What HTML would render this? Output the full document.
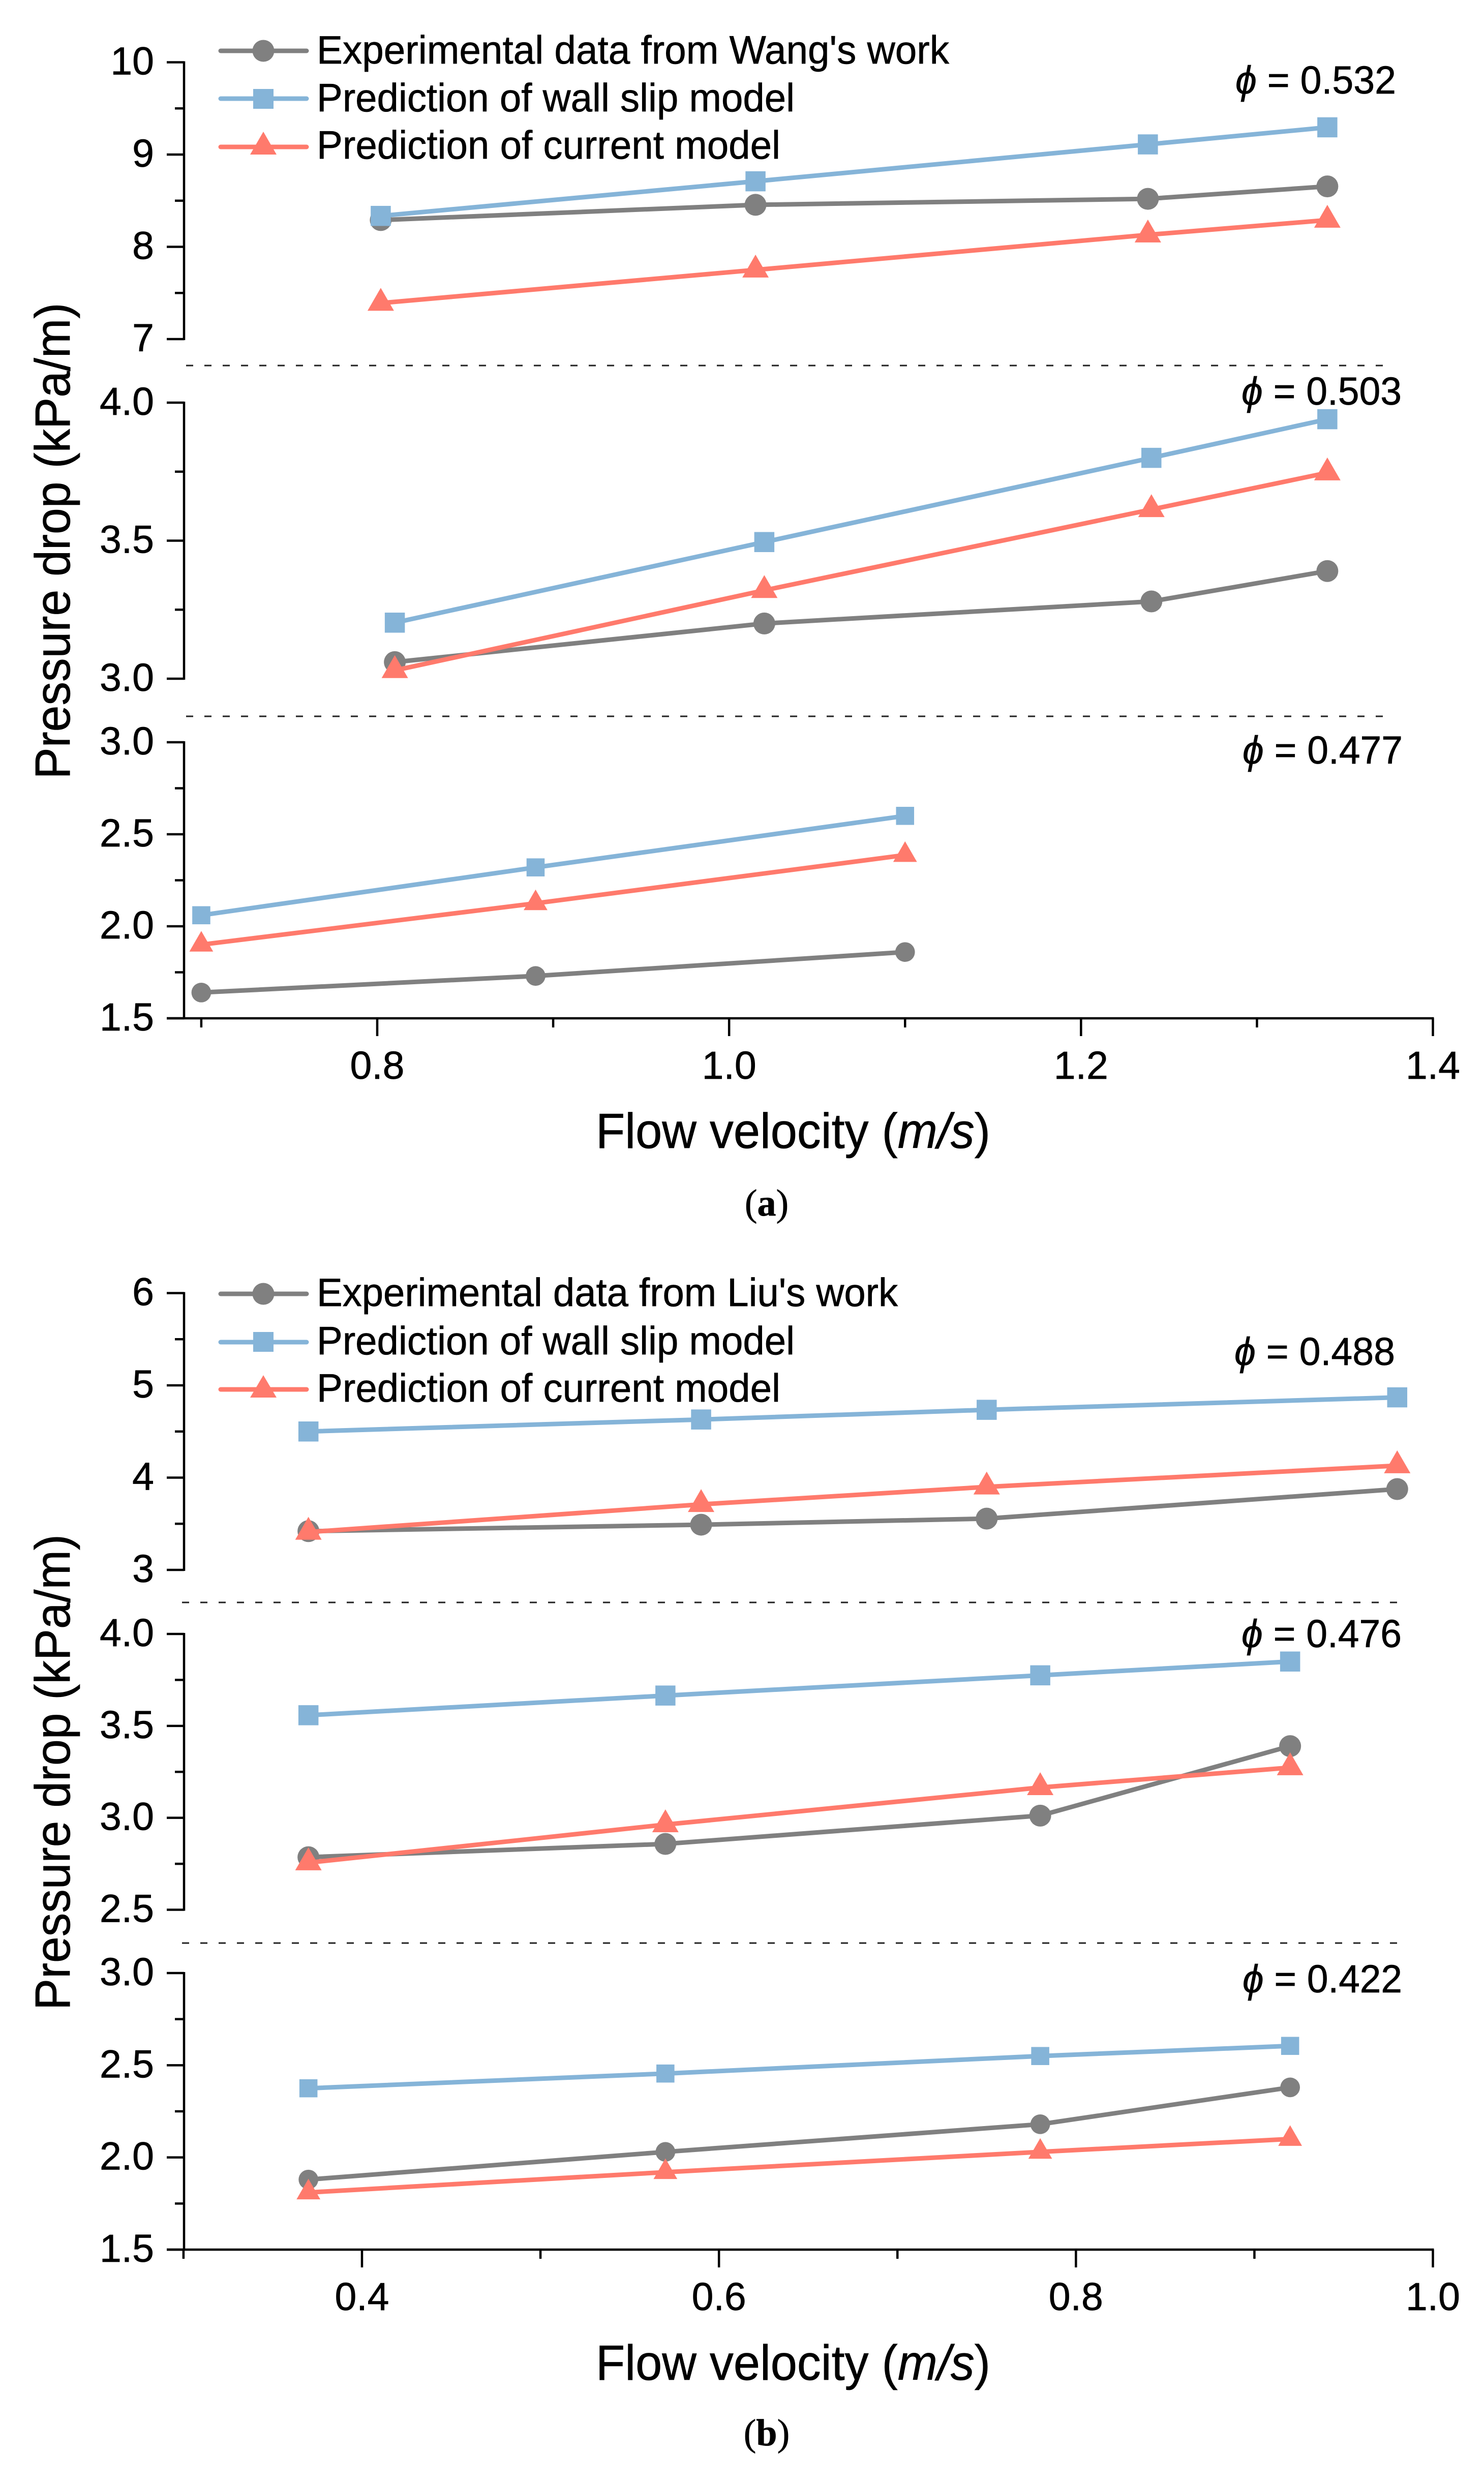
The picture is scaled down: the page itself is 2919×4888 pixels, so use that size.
<!DOCTYPE html>
<html lang="en">
<head>
<meta charset="utf-8">
<title>Pressure drop versus flow velocity</title>
<style>
html,body{margin:0;padding:0;background:#fff;}
svg{display:block;}
text{font-family:"Liberation Sans",sans-serif;fill:#000;stroke:#000;stroke-width:0.7px;}
.tick-label{font-size:77px;}
.legend-text{font-size:78px;}
.phi{font-size:77px;}
.axis-title{font-size:97px;}
.caption{font-family:"Liberation Serif",serif;font-size:74px;}
</style>
</head>
<body>
<svg id="chart" xmlns="http://www.w3.org/2000/svg" width="2919" height="4888" viewBox="0 0 2919 4888">
  <rect x="0" y="0" width="2919" height="4888" fill="#ffffff"/>

  <line x1="366" x2="2730" y1="719" y2="719" stroke="#222" stroke-width="3" stroke-dasharray="14 22"/>
  <line x1="366" x2="2730" y1="1409" y2="1409" stroke="#222" stroke-width="3" stroke-dasharray="14 22"/>
  <line x1="358" x2="2757" y1="3152" y2="3152" stroke="#222" stroke-width="3" stroke-dasharray="14 22"/>
  <line x1="358" x2="2757" y1="3822" y2="3822" stroke="#222" stroke-width="3" stroke-dasharray="14 22"/>

  <g id="plots"></g>

  <g>
    <g>
      <line x1="434" x2="603" y1="100" y2="100" stroke="#808080" stroke-width="9" stroke-linecap="round"/>
      <circle cx="518" cy="100" r="21.5" fill="#808080"/>
      <text class="legend-text" x="623" y="125" textLength="1244" lengthAdjust="spacingAndGlyphs">Experimental data from Wang's work</text>
    </g>
    <g>
      <line x1="434" x2="603" y1="194" y2="194" stroke="#85B4D8" stroke-width="9" stroke-linecap="round"/>
      <rect x="498" y="175" width="40" height="39" fill="#85B4D8"/>
      <text class="legend-text" x="623" y="219" textLength="940" lengthAdjust="spacingAndGlyphs">Prediction of wall slip model</text>
    </g>
    <g>
      <line x1="434" x2="603" y1="289" y2="289" stroke="#FF7A6C" stroke-width="9" stroke-linecap="round"/>
      <polygon points="518,259 544,304 492,304" fill="#FF7A6C"/>
      <text class="legend-text" x="623" y="312" textLength="912" lengthAdjust="spacingAndGlyphs">Prediction of current model</text>
    </g>
  </g>

  <g>
    <g>
      <line x1="434" x2="603" y1="2545" y2="2545" stroke="#808080" stroke-width="9" stroke-linecap="round"/>
      <circle cx="518" cy="2545" r="21.5" fill="#808080"/>
      <text class="legend-text" x="623" y="2569" textLength="1143" lengthAdjust="spacingAndGlyphs">Experimental data from Liu's work</text>
    </g>
    <g>
      <line x1="434" x2="603" y1="2640" y2="2640" stroke="#85B4D8" stroke-width="9" stroke-linecap="round"/>
      <rect x="498" y="2620" width="40" height="39" fill="#85B4D8"/>
      <text class="legend-text" x="623" y="2664" textLength="940" lengthAdjust="spacingAndGlyphs">Prediction of wall slip model</text>
    </g>
    <g>
      <line x1="434" x2="603" y1="2733" y2="2733" stroke="#FF7A6C" stroke-width="9" stroke-linecap="round"/>
      <polygon points="518,2705 544,2749 492,2749" fill="#FF7A6C"/>
      <text class="legend-text" x="623" y="2757" textLength="912" lengthAdjust="spacingAndGlyphs">Prediction of current model</text>
    </g>
  </g>

  <text class="phi" x="2430" y="184" textLength="316" lengthAdjust="spacingAndGlyphs"><tspan font-style="italic">&#981;</tspan> = 0.532</text>
  <text class="phi" x="2442" y="796" textLength="315" lengthAdjust="spacingAndGlyphs"><tspan font-style="italic">&#981;</tspan> = 0.503</text>
  <text class="phi" x="2444" y="1502" textLength="315" lengthAdjust="spacingAndGlyphs"><tspan font-style="italic">&#981;</tspan> = 0.477</text>
  <text class="phi" x="2428" y="2685" textLength="316" lengthAdjust="spacingAndGlyphs"><tspan font-style="italic">&#981;</tspan> = 0.488</text>
  <text class="phi" x="2442" y="3240" textLength="315" lengthAdjust="spacingAndGlyphs"><tspan font-style="italic">&#981;</tspan> = 0.476</text>
  <text class="phi" x="2444" y="3919" textLength="314" lengthAdjust="spacingAndGlyphs"><tspan font-style="italic">&#981;</tspan> = 0.422</text>

  <text class="axis-title" text-anchor="middle" transform="translate(137,1064) rotate(-90)" textLength="937" lengthAdjust="spacingAndGlyphs">Pressure drop (kPa/m)</text>
  <text class="axis-title" text-anchor="middle" transform="translate(137,3486) rotate(-90)" textLength="936" lengthAdjust="spacingAndGlyphs">Pressure drop (kPa/m)</text>
  <text class="axis-title" x="1172" y="2258" textLength="776" lengthAdjust="spacingAndGlyphs">Flow velocity (<tspan font-style="italic">m/s</tspan>)</text>
  <text class="axis-title" x="1172" y="4681" textLength="776" lengthAdjust="spacingAndGlyphs">Flow velocity (<tspan font-style="italic">m/s</tspan>)</text>
  <text class="caption" x="1508" y="2391" text-anchor="middle">(<tspan font-weight="bold">a</tspan>)</text>
  <text class="caption" x="1508" y="4810" text-anchor="middle">(<tspan font-weight="bold">b</tspan>)</text>
</svg>

<script>
// ---- Figure (a) data ----
const a1Velocity = [0.802, 1.015, 1.238, 1.34];
const a1Experimental = [8.29, 8.455, 8.52, 8.655];
const a1WallSlip = [8.335, 8.71, 9.11, 9.295];
const a1Current = [7.39, 7.75, 8.13, 8.29];
const a1YTicks = [7, 8, 9, 10];
const a1YLabels = ['7', '8', '9', '10'];
const a1YMinor = [7.5, 8.5, 9.5];

const a2Velocity = [0.81, 1.02, 1.24, 1.34];
const a2Experimental = [3.06, 3.2, 3.28, 3.39];
const a2WallSlip = [3.203, 3.495, 3.8, 3.94];
const a2Current = [3.03, 3.32, 3.613, 3.746];
const a2YTicks = [3, 3.5, 4];
const a2YLabels = ['3.0', '3.5', '4.0'];
const a2YMinor = [3.25, 3.75];

const a3Velocity = [0.7, 0.89, 1.1];
const a3Experimental = [1.64, 1.73, 1.86];
const a3WallSlip = [2.06, 2.32, 2.6];
const a3Current = [1.9, 2.125, 2.387];
const a3YTicks = [1.5, 2, 2.5, 3];
const a3YLabels = ['1.5', '2.0', '2.5', '3.0'];
const a3YMinor = [1.75, 2.25, 2.75];

const aXTicks = [0.8, 1.0, 1.2, 1.4];
const aXLabels = ['0.8', '1.0', '1.2', '1.4'];
const aXMinor = [0.7, 0.9, 1.1, 1.3];

// ---- Figure (b) data ----
const b1Velocity = [0.37, 0.59, 0.75, 0.98];
const b1Experimental = [3.42, 3.49, 3.556, 3.876];
const b1WallSlip = [4.5, 4.63, 4.735, 4.87];
const b1Current = [3.41, 3.71, 3.9, 4.13];
const b1YTicks = [3, 4, 5, 6];
const b1YLabels = ['3', '4', '5', '6'];
const b1YMinor = [3.5, 4.5, 5.5];

const b2Velocity = [0.37, 0.57, 0.78, 0.92];
const b2Experimental = [2.786, 2.858, 3.012, 3.39];
const b2WallSlip = [3.558, 3.665, 3.775, 3.85];
const b2Current = [2.756, 2.963, 3.165, 3.273];
const b2YTicks = [2.5, 3, 3.5, 4];
const b2YLabels = ['2.5', '3.0', '3.5', '4.0'];
const b2YMinor = [2.75, 3.25, 3.75];

const b3Velocity = [0.37, 0.57, 0.78, 0.92];
const b3Experimental = [1.88, 2.03, 2.18, 2.38];
const b3WallSlip = [2.375, 2.455, 2.55, 2.605];
const b3Current = [1.81, 1.92, 2.03, 2.1];
const b3YTicks = [1.5, 2, 2.5, 3];
const b3YLabels = ['1.5', '2.0', '2.5', '3.0'];
const b3YMinor = [1.75, 2.25, 2.75];

const bXTicks = [0.4, 0.6, 0.8, 1.0];
const bXLabels = ['0.4', '0.6', '0.8', '1.0'];
const bXMinor = [0.3, 0.5, 0.7, 0.9];

// ---- Drawing ----
const NS = 'http://www.w3.org/2000/svg';
const root = document.getElementById('plots');
const AXIS_X = 362, AXIS_RIGHT = 2818.5, MAJOR = 34, MINOR = 18, LABEL_X = 303;
const GREY = '#808080', BLUE = '#85B4D8', RED = '#FF7A6C';

function linear(v0, p0, v1, p1) {
  return function (v) { return p0 + (v - v0) * (p1 - p0) / (v1 - v0); };
}
function make(tag, attrs, parent) {
  const el = document.createElementNS(NS, tag);
  for (const k in attrs) el.setAttribute(k, attrs[k]);
  parent.appendChild(el);
  return el;
}
function drawYAxis(g, id, yOf, ticks, labels, minor) {
  const top = Math.max.apply(null, ticks), bottom = Math.min.apply(null, ticks);
  const spine = make('line', {x1: AXIS_X, x2: AXIS_X, y1: yOf(top) - 2, y2: yOf(bottom) + 2, stroke: '#000', 'stroke-width': 4.5}, g);
  
  
  ticks.forEach(function (t, i) {
    const tick = make('line', {x1: AXIS_X - MAJOR, x2: AXIS_X, y1: yOf(t), y2: yOf(t), stroke: '#000', 'stroke-width': 4.5}, g);
    
    
    const label = make('text', {x: LABEL_X, y: yOf(t) + 24, 'text-anchor': 'end', 'class': 'tick-label'}, g);
    label.textContent = labels[i];
    
    
  });
  minor.forEach(function (t) {
    const tick = make('line', {x1: AXIS_X - MINOR, x2: AXIS_X, y1: yOf(t), y2: yOf(t), stroke: '#000', 'stroke-width': 4.5}, g);
    
    
  });
}
function drawXAxis(g, id, xOf, axisY, ticks, labels, minor) {
  const spine = make('line', {x1: AXIS_X - MAJOR, x2: AXIS_RIGHT + 2, y1: axisY, y2: axisY, stroke: '#000', 'stroke-width': 4.5}, g);
  
  
  ticks.forEach(function (t, i) {
    const tick = make('line', {x1: xOf(t), x2: xOf(t), y1: axisY, y2: axisY + 35, stroke: '#000', 'stroke-width': 4.5}, g);
    
    
    const label = make('text', {x: xOf(t), y: axisY + 119, 'text-anchor': 'middle', 'class': 'tick-label'}, g);
    label.textContent = labels[i];
    
    
  });
  minor.forEach(function (t) {
    const tick = make('line', {x1: xOf(t), x2: xOf(t), y1: axisY, y2: axisY + 18, stroke: '#000', 'stroke-width': 4.5}, g);
    
    
  });
}
function drawSeries(g, id, kind, color, xs, ys, xOf, yOf, scale) {
  const pts = xs.map(function (x, i) { return xOf(x).toFixed(1) + ',' + yOf(ys[i]).toFixed(1); }).join(' ');
  const line = make('polyline', {points: pts, fill: 'none', stroke: color, 'stroke-width': 9, 'stroke-linejoin': 'round'}, g);
  
  
  xs.forEach(function (x, i) {
    const cx = xOf(x), cy = yOf(ys[i]);
    let m;
    if (kind === 'experimental') {
      m = make('circle', {cx: cx, cy: cy, r: 21.5 * scale, fill: color}, g);
    } else if (kind === 'wall-slip') {
      const s = 39.5 * scale;
      m = make('rect', {x: cx - s / 2, y: cy - s / 2, width: s, height: s, fill: color}, g);
    } else {
      const hw = 26 * scale, up = 30 * scale, down = 15 * scale;
      m = make('polygon', {points: cx + ',' + (cy - up) + ' ' + (cx + hw) + ',' + (cy + down) + ' ' + (cx - hw) + ',' + (cy + down), fill: color}, g);
    }
    
    
  });
}
function drawPanel(id, xOf, yOf, scale, xs, exp, wall, cur, ticks, labels, minor) {
  const g = make('g', {}, root);
  
  
  drawYAxis(g, id, yOf, ticks, labels, minor);
  return function () {
    drawSeries(g, id, 'experimental', GREY, xs, exp, xOf, yOf, scale);
    drawSeries(g, id, 'wall-slip', BLUE, xs, wall, xOf, yOf, scale);
    drawSeries(g, id, 'current', RED, xs, cur, xOf, yOf, scale);
  };
}

const xA = linear(0.8, 742, 1.4, 2818.5);
const xB = linear(0.4, 712, 1.0, 2818.5);

const aAxes = make('g', {}, root);


const bAxes = make('g', {}, root);


drawXAxis(aAxes, 'panel-a', xA, 2003, aXTicks, aXLabels, aXMinor);
drawXAxis(bAxes, 'panel-b', xB, 4425, bXTicks, bXLabels, bXMinor);

[
  drawPanel('panel-a-phi-0-532', xA, linear(7, 667, 10, 122.5), 1, a1Velocity, a1Experimental, a1WallSlip, a1Current, a1YTicks, a1YLabels, a1YMinor),
  drawPanel('panel-a-phi-0-503', xA, linear(3, 1335, 4, 792), 1, a2Velocity, a2Experimental, a2WallSlip, a2Current, a2YTicks, a2YLabels, a2YMinor),
  drawPanel('panel-a-phi-0-477', xA, linear(1.5, 2003, 3, 1460), 0.9, a3Velocity, a3Experimental, a3WallSlip, a3Current, a3YTicks, a3YLabels, a3YMinor),
  drawPanel('panel-b-phi-0-488', xB, linear(3, 3088, 6, 2543.5), 1, b1Velocity, b1Experimental, b1WallSlip, b1Current, b1YTicks, b1YLabels, b1YMinor),
  drawPanel('panel-b-phi-0-476', xB, linear(2.5, 3756.5, 4, 3214), 1, b2Velocity, b2Experimental, b2WallSlip, b2Current, b2YTicks, b2YLabels, b2YMinor),
  drawPanel('panel-b-phi-0-422', xB, linear(1.5, 4425, 3, 3881), 0.9, b3Velocity, b3Experimental, b3WallSlip, b3Current, b3YTicks, b3YLabels, b3YMinor)
].forEach(function (drawMarks) { drawMarks(); });
</script>
</body>
</html>
